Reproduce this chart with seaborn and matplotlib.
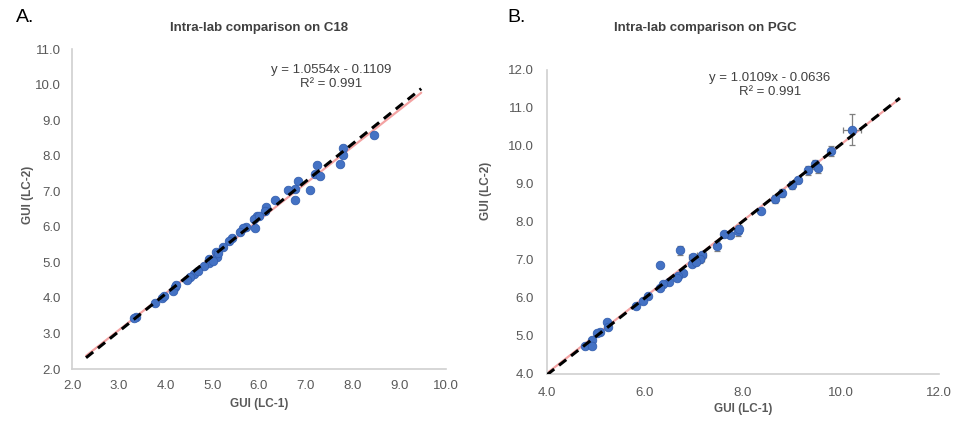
import numpy as np
import pandas as pd
import matplotlib
matplotlib.use("Agg")
import matplotlib.pyplot as plt
import seaborn as sns

# ---------------- data ----------------
# Panel A (C18)
a_lc1 = [8.47, 7.79, 7.79, 7.73, 7.23, 7.20, 7.30, 7.09, 6.83, 6.76, 6.63, 6.76, 6.34,
         6.15, 6.13, 5.91, 5.95, 5.90, 5.99, 5.72, 5.65, 5.59, 5.42, 5.35, 5.22, 5.09,
         5.11, 4.92, 4.93, 4.82, 5.13, 4.60, 4.53, 4.45, 4.20, 4.17, 4.22, 3.92, 3.96,
         3.78, 3.37, 3.32, 4.70, 5.02]
a_lc2 = [8.59, 8.22, 8.03, 7.77, 7.75, 7.49, 7.42, 7.04, 7.30, 7.06, 7.04, 6.76, 6.74,
         6.55, 6.43, 5.96, 6.29, 6.21, 6.31, 5.98, 5.96, 5.84, 5.68, 5.61, 5.44, 5.29,
         5.14, 5.09, 4.99, 4.90, 5.27, 4.68, 4.60, 4.49, 4.32, 4.18, 4.35, 3.99, 4.05,
         3.87, 3.45, 3.43, 4.75, 5.05]
a_slope, a_icpt = 1.0554, -0.1109
a_line_x = [2.3, 9.47]
a_pink_y = [2.37, 9.77]

# Panel B (PGC)
b_lc1 = [10.22, 9.80, 9.47, 9.54, 9.33, 9.12, 9.01, 8.79, 8.66, 8.37, 7.90, 7.73, 7.62,
         7.46, 6.71, 6.31, 6.97, 7.16, 7.05, 6.95, 7.12, 7.04, 6.77, 6.68, 6.65, 6.48,
         6.37, 6.31, 6.07, 5.95, 5.82, 5.23, 5.25, 5.08, 5.03, 4.91, 4.78, 4.91, 7.92]
b_lc2 = [10.43, 9.86, 9.52, 9.41, 9.36, 9.10, 8.97, 8.76, 8.61, 8.29, 7.77, 7.66, 7.68,
         7.37, 7.26, 6.88, 7.07, 7.12, 6.98, 6.90, 7.03, 6.94, 6.65, 6.59, 6.53, 6.42,
         6.36, 6.27, 6.05, 5.92, 5.78, 5.37, 5.24, 5.11, 5.08, 4.89, 4.73, 4.73, 7.82]
b_xerr = [0.18, 0.03, 0.03, 0.03, 0.03, 0.03, 0.03, 0.03, 0.03, 0.02, 0.03, 0.03, 0.03,
          0.02, 0.02, 0.02, 0.08, 0.09, 0.06, 0.04, 0.08, 0.05, 0.03, 0.02, 0.02, 0.02,
          0.02, 0.02, 0.02, 0.02, 0.02, 0.02, 0.02, 0.02, 0.02, 0.02, 0.02, 0.02, 0.03]
b_yerr = [0.41, 0.13, 0.12, 0.12, 0.12, 0.08, 0.11, 0.10, 0.10, 0.05, 0.13, 0.06, 0.06,
          0.12, 0.12, 0.03, 0.10, 0.09, 0.07, 0.06, 0.10, 0.06, 0.05, 0.04, 0.04, 0.03,
          0.03, 0.03, 0.03, 0.03, 0.03, 0.03, 0.03, 0.03, 0.03, 0.03, 0.03, 0.03, 0.10]
b_slope, b_icpt = 1.0109, -0.0636
b_line_x = [4.0, 11.2]
b_pink_y = [4.02, 11.25]

titles = ["Intra-lab comparison on C18", "Intra-lab comparison on PGC"]
panel_labels = ["A.", "B."]
eqs = ["y = 1.0554x - 0.1109\nR\u00b2 = 0.991", "y = 1.0109x - 0.0636\nR\u00b2 = 0.991"]

# ---------------- plotting ----------------
sns.set_theme(style="white")
plt.rcParams['font.family'] = ['Liberation Sans', 'DejaVu Sans']

W, H = 967, 437
fig = plt.figure(figsize=(W / 100, H / 100), dpi=100)

def ax_rect(l, r, t, b):
    return [l / W, (H - b) / H, (r - l) / W, (b - t) / H]

axA = fig.add_axes(ax_rect(72, 446, 49, 369))
axB = fig.add_axes(ax_rect(547, 939, 70, 374))

blue = "#4472C4"
edge = "#3560B0"
gray_txt = "#595959"
spine_c = "#d0d0d0"

dfA = pd.DataFrame({"lc1": a_lc1, "lc2": a_lc2})
dfB = pd.DataFrame({"lc1": b_lc1, "lc2": b_lc2})

# Panel A
axA.plot(a_line_x, a_pink_y, color="#F4A3A3", lw=1.6, zorder=1)
sns.scatterplot(data=dfA, x="lc1", y="lc2", ax=axA, color=blue, edgecolor=edge,
                linewidth=0.6, s=38, zorder=3)
ax_ = np.array(a_line_x)
axA.plot(ax_, a_slope * ax_ + a_icpt, color="black", lw=2.2, ls=(0, (3, 2)), zorder=4)
axA.set_xlim(2, 10)
axA.set_ylim(2, 11)
axA.set_xticks(np.arange(2, 10.01, 1))
axA.set_yticks(np.arange(2, 11.01, 1))

# Panel B
axB.plot(b_line_x, b_pink_y, color="#F4A3A3", lw=1.6, zorder=1)
axB.errorbar(b_lc1, b_lc2, xerr=b_xerr, yerr=b_yerr, fmt="none", ecolor="#7f7f7f",
             elinewidth=0.9, capsize=2.5, capthick=0.9, zorder=2)
sns.scatterplot(data=dfB, x="lc1", y="lc2", ax=axB, color=blue, edgecolor=edge,
                linewidth=0.6, s=38, zorder=3)
bx_ = np.array(b_line_x)
axB.plot(bx_, b_slope * bx_ + b_icpt, color="black", lw=2.2, ls=(0, (3, 2)), zorder=4)
axB.set_xlim(4, 12)
axB.set_ylim(4, 12)
axB.set_xticks(np.arange(4, 12.01, 2))
axB.set_yticks(np.arange(4, 12.01, 1))

for ax, pad in ((axA, 8), (axB, 9.5)):
    for s in ("top", "right"):
        ax.spines[s].set_visible(False)
    for s in ("left", "bottom"):
        ax.spines[s].set_color(spine_c)
        ax.spines[s].set_linewidth(1.2)
    ax.xaxis.set_major_formatter(matplotlib.ticker.FormatStrFormatter("%.1f"))
    ax.yaxis.set_major_formatter(matplotlib.ticker.FormatStrFormatter("%.1f"))
    ax.tick_params(axis="both", length=0, labelsize=9.5, colors=gray_txt, pad=pad)
    ax.set_xlabel("")
    ax.set_ylabel("")
    ax.grid(False)

# Titles, labels, equations (figure pixel coordinates)
def ftext(x, y, s, **kw):
    fig.text(x / W, 1 - y / H, s, **kw)

ftext(259, 28, titles[0], ha="center", va="center", fontsize=9.5, fontweight="bold", color="#404040")
ftext(705, 28, titles[1], ha="center", va="center", fontsize=9.5, fontweight="bold", color="#404040")
ftext(16, 18, panel_labels[0], ha="left", va="center", fontsize=14, color="black")
ftext(507, 18, panel_labels[1], ha="left", va="center", fontsize=14, color="black")

ftext(259, 404, "GUI (LC-1)", ha="center", va="center", fontsize=8.5, fontweight="bold", color=gray_txt)
ftext(743, 409, "GUI (LC-1)", ha="center", va="center", fontsize=8.5, fontweight="bold", color=gray_txt)
ftext(28, 195, "GUI (LC-2)", ha="center", va="center", rotation=90, fontsize=8.5, fontweight="bold", color=gray_txt)
ftext(486, 191, "GUI (LC-2)", ha="center", va="center", rotation=90, fontsize=8.5, fontweight="bold", color=gray_txt)

ftext(331, 77, eqs[0], ha="center", va="center", fontsize=9.5, color="#404040", linespacing=1.2)
ftext(770, 85, eqs[1], ha="center", va="center", fontsize=9.5, color="#404040", linespacing=1.2)

fig.savefig("out.png", dpi=100, facecolor="white")
